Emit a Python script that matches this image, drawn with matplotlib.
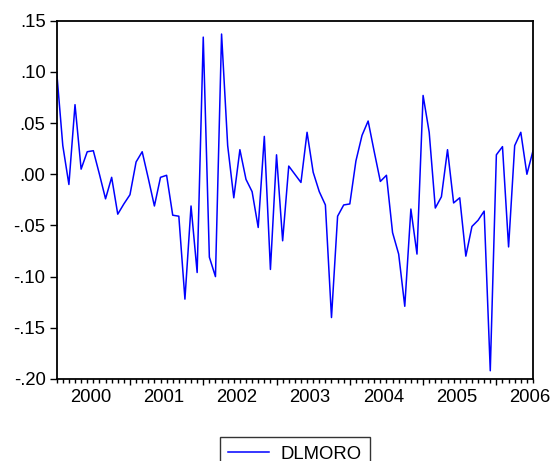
import numpy as np
import pandas as pd
import matplotlib
matplotlib.use("Agg")
import matplotlib.pyplot as plt

plt.rcParams['font.family'] = ['Liberation Sans', 'DejaVu Sans']

# monthly series, 2000M01 .. 2006M07
dlmoro = [
    0.100, 0.028, -0.010, 0.068, 0.005, 0.022, 0.023, 0.000, -0.024, -0.003, -0.039, -0.029,
    -0.020, 0.012, 0.022, -0.004, -0.031, -0.003, -0.001, -0.040, -0.041, -0.122, -0.031, -0.096,
    0.134, -0.081, -0.100, 0.137, 0.028, -0.023, 0.024, -0.005, -0.017, -0.052, 0.037, -0.093,
    0.019, -0.065, 0.008, 0.000, -0.008, 0.041, 0.002, -0.017, -0.030, -0.140, -0.041, -0.030,
    -0.029, 0.013, 0.038, 0.052, 0.022, -0.007, -0.001, -0.057, -0.078, -0.129, -0.034, -0.078,
    0.077, 0.041, -0.033, -0.022, 0.024, -0.028, -0.023, -0.080, -0.051, -0.045, -0.036, -0.192,
    0.019, 0.027, -0.071, 0.028, 0.041, 0.000, 0.023,
]
years = [2000, 2001, 2002, 2003, 2004, 2005, 2006]
yticks = [-0.20, -0.15, -0.10, -0.05, 0.00, 0.05, 0.10, 0.15]
ytick_labels = ['-.20', '-.15', '-.10', '-.05', '.00', '.05', '.10', '.15']

months = pd.period_range('2000-01', periods=len(dlmoro), freq='M')
x = np.arange(len(months))

fig = plt.figure(figsize=(5.52, 4.61), dpi=100)
ax = fig.add_axes([0.1027, 0.178, 0.8629, 0.777])

ax.plot(x, dlmoro, color='#0000FF', lw=1.1, label='DLMORO')

ax.set_xlim(0, len(x) - 1)
ax.set_ylim(-0.20, 0.15)

# year ticks at January, minor ticks on every month
jan_idx = [i for i, m in enumerate(months) if m.month == 1 and i > 0]
ax.set_xticks(jan_idx)
ax.set_xticklabels([])
ax.set_xticks(x, minor=True)
ax.tick_params(axis='x', which='major', length=4.5, width=1.0, direction='out')
ax.tick_params(axis='x', which='minor', length=2.6, width=1.0, direction='out')

month_years = list(months.year)
for yr in years:
    start = month_years.index(yr)
    ax.text(start + 5.5, -0.027, str(yr), transform=ax.get_xaxis_transform(),
            ha='center', va='top', fontsize=13.3)

ax.set_yticks(yticks)
ax.set_yticklabels(ytick_labels, fontsize=13.3)
ax.tick_params(axis='y', length=5, width=1.0, pad=3, direction='out')

for side in ['left', 'bottom', 'right', 'top']:
    ax.spines[side].set_linewidth(1.3)
    ax.spines[side].set_color('black')

leg = fig.legend(loc='upper center', bbox_to_anchor=(0.534, 1 - 428 / 461),
                 fontsize=13.3, frameon=True, fancybox=False, handlelength=2.2,
                 borderpad=0.45, handletextpad=0.6)
leg.get_frame().set_edgecolor('black')
leg.get_frame().set_linewidth(1.0)

fig.savefig('out.png', dpi=100)
